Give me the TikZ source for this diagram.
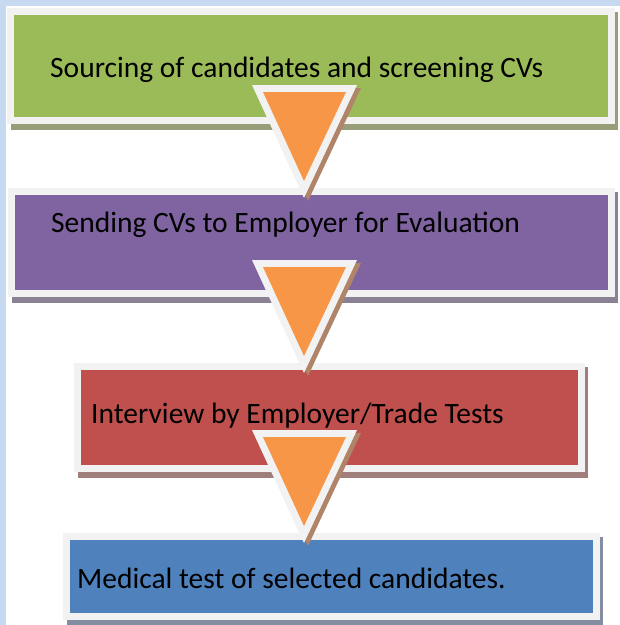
\documentclass[tikz,border=0pt]{standalone}
\usepackage{fontspec}
\setmainfont{Carlito}
\usepackage{xcolor}
\usetikzlibrary{backgrounds}
\definecolor{pageblue}{HTML}{C6D9F1}
\definecolor{rim}{HTML}{F2F2F2}
\definecolor{grn}{HTML}{9BBB59}
\definecolor{purp}{HTML}{8064A2}
\definecolor{redd}{HTML}{C0504D}
\definecolor{blu}{HTML}{4F81BD}
\definecolor{orng}{HTML}{F79646}
\definecolor{grnsh}{HTML}{989C78}
\definecolor{purpsh}{HTML}{8A8294}
\definecolor{reddsh}{HTML}{A07E7C}
\definecolor{blush}{HTML}{858DA2}
\definecolor{orngsh}{HTML}{B08468}
\tikzset{
  stepbox/.style={draw=rim, line width=7pt},
  lbl/.style={anchor=base west, inner sep=0pt, font=\fontsize{29.5}{29.5}\selectfont}
}

\begin{document}
\begin{tikzpicture}[x=1pt, y=-1pt]
  \useasboundingbox (0,0) rectangle (620,625);
  % boxes
  \node[stepbox, fill=grn, minimum width=601pt, minimum height=109pt] (b1) at (311,66) {};
  \node[stepbox, fill=purp, minimum width=600pt, minimum height=102pt] (b2) at (311.5,242.5) {};
  \node[stepbox, fill=redd, minimum width=504pt, minimum height=102pt] (b3) at (329.5,417.5) {};
  \node[stepbox, fill=blu, minimum width=530pt, minimum height=80pt] (b4) at (331.5,576.5) {};
  \node[lbl] (l1) at (50,77) {Sourcing of candidates and screening CVs};
  \node[lbl] (l2) at (51,232) {Sending CVs to Employer for Evaluation};
  \node[lbl] (l3) at (91,423) {Interview by Employer/Trade Tests};
  \node[lbl] (l4) at (77,588) {Medical test of selected candidates.};
  % page and shadows
  \begin{pgfonlayer}{background}
    \fill[white] (0,0) rectangle (620,625);
    \fill[pageblue] (0,0) rectangle (620,6);
    \fill[pageblue] (0,0) rectangle (6,625);
    \fill[grnsh] ([xshift=4pt,yshift=-4pt]b1.north west) rectangle ([xshift=3pt,yshift=-6pt]b1.south east);
    \fill[purpsh] ([xshift=4pt,yshift=-4pt]b2.north west) rectangle ([xshift=3pt,yshift=-6pt]b2.south east);
    \fill[reddsh] ([xshift=4pt,yshift=-4pt]b3.north west) rectangle ([xshift=3pt,yshift=-6pt]b3.south east);
    \fill[blush] ([xshift=4pt,yshift=-4pt]b4.north west) rectangle ([xshift=3pt,yshift=-6pt]b4.south east);
  \end{pgfonlayer}
  % arrows
  \fill[orngsh] (256,88) -- (361,88) -- (308,201) -- cycle;
  \fill[rim] (252,85) -- (357,85) -- (304,198) -- cycle;
  \fill[orng] (263,92) -- (346,92) -- (304,181) -- cycle;
  \fill[orngsh] (256,263) -- (361,263) -- (308,376) -- cycle;
  \fill[rim] (252,260) -- (357,260) -- (304,373) -- cycle;
  \fill[orng] (263,267) -- (346,267) -- (304,356) -- cycle;
  \fill[orngsh] (256,433) -- (361,433) -- (308,546) -- cycle;
  \fill[rim] (252,430) -- (357,430) -- (304,543) -- cycle;
  \fill[orng] (263,437) -- (346,437) -- (304,526) -- cycle;
\end{tikzpicture}
\end{document}
